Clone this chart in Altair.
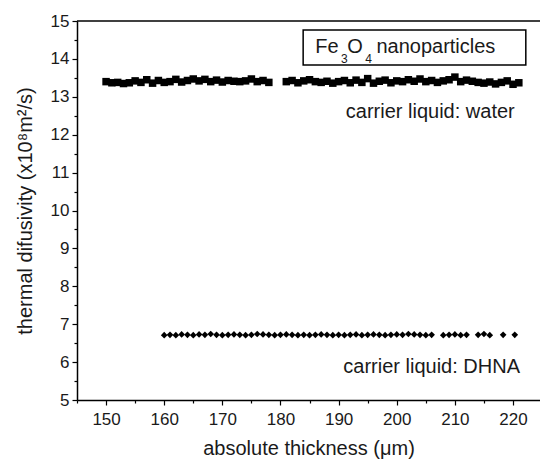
import altair as alt
import pandas as pd

# ---- data ----
water_x = [150, 151, 152, 153, 154, 155, 156, 157, 158, 159,
           160, 161, 162, 163, 164, 165, 166, 167, 168, 169,
           170, 171, 172, 173, 174, 175, 176, 177, 178,
           181, 182, 183, 184, 185, 186, 187, 188, 189, 190,
           191, 192, 193, 194, 195, 196, 197, 198, 199, 200,
           201, 202, 203, 204, 205, 206, 207, 208, 209, 210,
           211, 212, 213, 214, 215, 216, 217, 218, 219, 220, 221]
water_y = [13.40, 13.37, 13.38, 13.35, 13.37, 13.42, 13.38, 13.45, 13.36, 13.43,
           13.38, 13.40, 13.46, 13.39, 13.43, 13.47, 13.42, 13.46, 13.40, 13.44,
           13.39, 13.43, 13.41, 13.40, 13.42, 13.47, 13.40, 13.43, 13.38,
           13.40, 13.43, 13.37, 13.42, 13.45, 13.40, 13.38, 13.41, 13.36, 13.40,
           13.43, 13.37, 13.44, 13.38, 13.48, 13.36, 13.41, 13.44, 13.37, 13.42,
           13.40, 13.45, 13.41, 13.47, 13.40, 13.43, 13.38, 13.42, 13.45, 13.52,
           13.40, 13.44, 13.41, 13.38, 13.36, 13.39, 13.34, 13.38, 13.42, 13.33, 13.37]

dhna_x = [160, 161, 162, 163, 164, 165, 166, 167, 168, 169,
          170, 171, 172, 173, 174, 175, 176, 177, 178, 179,
          180, 181, 182, 183, 184, 185, 186, 187, 188, 189,
          190, 191, 192, 193, 194, 195, 196, 197, 198, 199,
          200, 201, 202, 203, 204, 205, 206,
          208, 209, 210, 211, 212,
          214, 215, 216,
          218.3, 220.3]
dhna_y = [6.71, 6.72, 6.71, 6.73, 6.72, 6.71, 6.73, 6.72, 6.74, 6.72,
          6.71, 6.72, 6.73, 6.72, 6.71, 6.72, 6.74, 6.73, 6.72, 6.71,
          6.72, 6.73, 6.72, 6.71, 6.72, 6.71, 6.72, 6.73, 6.72, 6.71,
          6.72, 6.71, 6.72, 6.73, 6.71, 6.72, 6.73, 6.72, 6.71, 6.72,
          6.73, 6.72, 6.74, 6.73, 6.72, 6.71, 6.72,
          6.71, 6.72, 6.73, 6.71, 6.72,
          6.72, 6.74, 6.71,
          6.72, 6.72]

x_major = [150, 160, 170, 180, 190, 200, 210, 220]
x_minor = [145, 155, 165, 175, 185, 195, 205, 215]
y_major = [5, 6, 7, 8, 9, 10, 11, 12, 13, 14, 15]
y_minor = [5.5, 6.5, 7.5, 8.5, 9.5, 10.5, 11.5, 12.5, 13.5, 14.5]

x_domain = [145, 224.64]
y_domain = [5, 15]

# annotations (data coordinates)
labels_text = ["carrier liquid: water", "carrier liquid: DHNA"]
labels_x = [220.3, 221.2]
labels_y = [12.6, 5.88]

box_x = [183.9]
box_x2 = [222.2]
box_y = [14.76]
box_y2 = [13.84]

title_big_text = ["Fe", "O", "nanoparticles"]
title_big_x = [186.0, 191.5, 196.5]
title_big_y = [14.31, 14.31, 14.31]
title_sub_text = ["3", "4"]
title_sub_x = [190.4, 194.6]
title_sub_y = [14.0, 14.0]

FONT = "Liberation Sans"
INK = "#1a1a1a"

water = pd.DataFrame({"x": water_x, "y": water_y})
dhna = pd.DataFrame({"x": dhna_x, "y": dhna_y})

xs = alt.Scale(domain=x_domain, nice=False, zero=False)
ys = alt.Scale(domain=y_domain, nice=False, zero=False)

x_axis = alt.Axis(values=x_major, title="absolute thickness (μm)", tickSize=5,
                  labelPadding=6, titlePadding=11, grid=False, orient="bottom",
                  labelFontSize=17, titleFontSize=20)
y_axis = alt.Axis(values=y_major, title="thermal difusivity (x10⁸m²/s)", tickSize=5,
                  labelPadding=3, titlePadding=15, grid=False, orient="left",
                  labelFontSize=17, titleFontSize=20)


def X(field="x"):
    return alt.X(f"{field}:Q", scale=xs, axis=x_axis)


def Y(field="y"):
    return alt.Y(f"{field}:Q", scale=ys, axis=y_axis)


water_layer = alt.Chart(water).mark_square(size=56, color="black", opacity=1).encode(
    x=X(), y=Y())
dhna_layer = alt.Chart(dhna).mark_point(shape="diamond", size=44, filled=True,
                                        color="black", opacity=1).encode(x=X(), y=Y())

top_df = pd.DataFrame({"x": [x_domain[0]], "x2": [x_domain[1]], "y": [y_domain[1]]})
top_rule = alt.Chart(top_df).mark_rule(color="black", strokeWidth=1.5).encode(
    x=X(), x2="x2:Q", y=Y())

lab_df = pd.DataFrame({"t": labels_text, "x": labels_x, "y": labels_y})
labels_layer = alt.Chart(lab_df).mark_text(align="right", baseline="middle",
                                           font=FONT, fontSize=20, color=INK).encode(
    x=X(), y=Y(), text="t:N")

box_df = pd.DataFrame({"x": box_x, "x2": box_x2, "y": box_y, "y2": box_y2})
box_layer = alt.Chart(box_df).mark_rect(fill="white", stroke="black", strokeWidth=1.5).encode(
    x=X(), x2="x2:Q", y=Y(), y2="y2:Q")

big_df = pd.DataFrame({"t": title_big_text, "x": title_big_x, "y": title_big_y})
big_layer = alt.Chart(big_df).mark_text(align="left", baseline="middle",
                                        font=FONT, fontSize=20, color=INK).encode(
    x=X(), y=Y(), text="t:N")
sub_df = pd.DataFrame({"t": title_sub_text, "x": title_sub_x, "y": title_sub_y})
sub_layer = alt.Chart(sub_df).mark_text(align="left", baseline="middle",
                                        font=FONT, fontSize=12, color=INK).encode(
    x=X(), y=Y(), text="t:N")

main = alt.layer(water_layer, dhna_layer, top_rule, labels_layer,
                 box_layer, big_layer, sub_layer)

minor_df = pd.DataFrame({"x": [x_domain[0]], "y": [y_domain[0]]})
minor_layer = alt.Chart(minor_df).mark_point(opacity=0).encode(
    x=alt.X("x:Q", scale=xs, axis=alt.Axis(values=x_minor, labels=False, tickSize=3,
                                            domain=False, grid=False, title=None,
                                            orient="bottom")),
    y=alt.Y("y:Q", scale=ys, axis=alt.Axis(values=y_minor, labels=False, tickSize=3,
                                            domain=False, grid=False, title=None,
                                            orient="left")),
)

chart = alt.layer(main, minor_layer).resolve_axis(
    x="independent", y="independent"
).properties(
    width=463, height=379,
    autosize=alt.AutoSizeParams(type="none"),
    padding={"left": 77, "top": 21, "right": 0, "bottom": 62},
    background="white",
).configure_view(stroke=None).configure_axis(
    domainColor="black", domainWidth=1.5, tickColor="black", tickWidth=1.2,
    labelColor=INK, titleColor=INK, labelFont=FONT, titleFont=FONT,
    titleFontWeight="normal",
)

chart.save("out.html", embed_options={"renderer": "svg", "actions": False})
